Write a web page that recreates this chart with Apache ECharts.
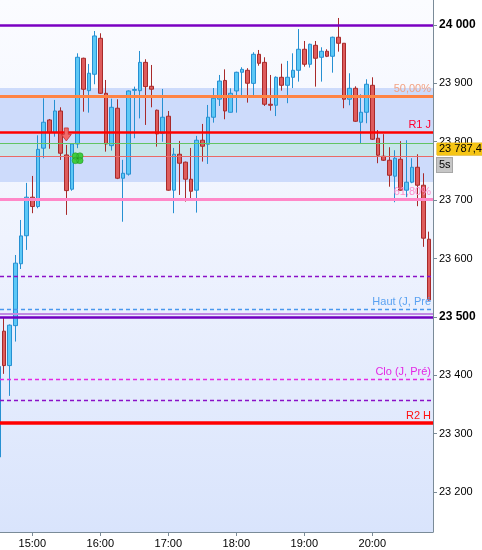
<!DOCTYPE html>
<html>
<head>
<meta charset="utf-8">
<script src="https://cdn.jsdelivr.net/npm/echarts@6/dist/echarts.min.js"></script>
<style>
html,body{margin:0;padding:0;background:#fff;}
#c{width:482px;height:550px;}
</style>
</head>
<body>
<div id="c"></div>
<script>
// ---- data ----
const times = ['14:30','14:35','14:40','14:45','14:50','14:55',
 '15:00','15:05','15:10','15:15','15:20','15:25','15:30','15:35','15:40','15:45','15:50','15:55',
 '16:00','16:05','16:10','16:15','16:20','16:25','16:30','16:35','16:40','16:45','16:50','16:55',
 '17:00','17:05','17:10','17:15','17:20','17:25','17:30','17:35','17:40','17:45','17:50','17:55',
 '18:00','18:05','18:10','18:15','18:20','18:25','18:30','18:35','18:40','18:45','18:50','18:55',
 '19:00','19:05','19:10','19:15','19:20','19:25','19:30','19:35','19:40','19:45','19:50','19:55',
 '20:00','20:05','20:10','20:15','20:20','20:25','20:30','20:35','20:40','20:45','20:50'];
// [open, close, low, high]
const ohlc = [
 [23260,23415,23255,23420],
 [23475.5,23416.6,23402.4,23499.5],
 [23416.6,23485.8,23364.7,23487],
 [23485,23592,23457.7,23606],
 [23591,23638.7,23582,23666],
 [23639,23705,23614.7,23729.5],
 [23705,23689,23677.6,23741.4],
 [23689,23787,23686,23811],
 [23789,23833.4,23771.8,23874.5],
 [23837.3,23815.6,23788,23839],
 [23815.6,23852.7,23808.7,23871.6],
 [23852.7,23780.3,23768.9,23859],
 [23777.4,23716.3,23674.7,23794.5],
 [23718.7,23796.2,23716,23797],
 [23796.2,23944.7,23789,23951.5],
 [23943,23889.9,23851.5,23944],
 [23887.5,23917.3,23849.8,23933.2],
 [23915.6,23981.2,23898.5,23989.7],
 [23977.2,23883,23882,23985.8],
 [23883,23796.2,23783,23905.8],
 [23793.3,23859,23784.8,23873.8],
 [23857.4,23737.5,23736,23872.8],
 [23737.5,23746,23663,23769],
 [23744.5,23887,23742,23888],
 [23888,23889.5,23806,23894.4],
 [23887.5,23936,23840,23955.5],
 [23936,23894.4,23828.8,23941.3],
 [23895,23890,23859,23931.5],
 [23854,23813.4,23791.6,23855],
 [23814.5,23842,23800,23890.4],
 [23843.7,23717,23716,23852.7],
 [23717,23778.6,23677.6,23789.4],
 [23778.6,23763.2,23708.9,23801.4],
 [23765,23735.8,23697.5,23766],
 [23735.8,23715.2,23703.3,23789.4],
 [23717,23802.6,23678.6,23810],
 [23802.6,23792.3,23766,23830.5],
 [23795.7,23842,23762,23863],
 [23842,23874.5,23832.7,23892],
 [23873,23904,23861.3,23914.4],
 [23905,23852.7,23838.5,23924],
 [23850.5,23883,23850,23891.6],
 [23887,23919,23849.8,23920],
 [23919,23924,23880,23927.6],
 [23922.4,23900.2,23867,23926],
 [23900,23949.8,23880,23953.3],
 [23949.8,23934.4,23930.3,23957.2],
 [23936,23864.2,23861.3,23944.7],
 [23864.2,23862.5,23853.3,23914.4],
 [23862.5,23910.4,23844,23912],
 [23910.4,23896.7,23887.5,23933.7],
 [23896.7,23910.4,23866,23938.4],
 [23910.4,23922.4,23892,23951.5],
 [23922.4,23958.4,23903,23993],
 [23958.4,23932.7,23928.6,23972.6],
 [23932.7,23967,23927,23968],
 [23965.2,23943,23894.4,23972.6],
 [23944.7,23955,23903,23961.8],
 [23955,23946.4,23945,23958.4],
 [23946.4,23979,23918.3,23980],
 [23979,23968.7,23954.3,24012],
 [23968.7,23872.8,23857.4,23969],
 [23872.8,23891.6,23862.5,23917.3],
 [23891.6,23835.1,23834,23895],
 [23833.4,23850.5,23797.4,23881.3],
 [23850.5,23898.5,23831.7,23907],
 [23896.7,23804.3,23803,23910.4],
 [23806,23776.9,23763.2,23820],
 [23775.2,23768.3,23767,23813],
 [23768.3,23742.6,23723,23790.6],
 [23741,23771.8,23696.4,23785.5],
 [23770,23717,23716,23801],
 [23717,23730.7,23705,23802.6],
 [23730.7,23756.3,23729,23771.8],
 [23756.3,23725.5,23689.6,23778.6],
 [23725.5,23634.8,23620,23746],
 [23633,23529,23528,23646]
];
const levelValues = [24000, 23878, 23815.6, 23797.4, 23775.7, 23701.5, 23569.6, 23513, 23505.7, 23500, 23393, 23357, 23318];
const levelLabels = ['', '50,00%', 'R1 J', '', '', '61,80%', '', 'Haut (J, Pré', '', '', 'Clo (J, Pré)', '', 'R2 H'];
const bandRanges = [[23892, 23731], [23797.4, 23775.7]];
const lastPrice = 23787.4;
const lastPriceText = '23 787,4';
const timerText = '5s';
const arrowSignals = [['15:30', 23812.5]];
const cloverSignals = [['15:40', 23771.8]];
const boldTicks = [24000, 23500];
const viewStart = '14:31:30';
const viewEnd = '20:53:34';
const priceMin = 23131.5;
const priceMax = 24042.8;

// ---- helpers / styles (not data) ----
function toTime(s){
  const p = s.split(':').map(Number);
  return new Date(2024, 0, 2, p[0], p[1], p[2] || 0).getTime();
}
function fmt(v){
  const s = String(Math.round(v));
  return s.slice(0, s.length-3) + ' ' + s.slice(-3);
}
const levelStyles = [
 {color:'#7a00c2', width:2.5, type:'solid', label:'#000'},
 {color:'#ff8444', width:3, type:'solid', label:'#f2a283'},
 {color:'#ff0000', width:2.5, type:'solid', label:'#ff0030'},
 {color:'#62c462', width:1, type:'solid', label:'#000'},
 {color:'#ea6a66', width:1, type:'solid', label:'#000'},
 {color:'#ff88c8', width:3, type:'solid', label:'#ff8ccc'},
 {color:'#8a10c8', width:1.3, type:[4,3], label:'#000'},
 {color:'#4a98ee', width:1.3, type:[4,3], label:'#5aa2f2'},
 {color:'#c28ae4', width:2, type:'solid', label:'#000'},
 {color:'#7200c0', width:2.5, type:'solid', label:'#000'},
 {color:'#e428e4', width:1.3, type:[4,3], label:'#e428e4'},
 {color:'#8a10c8', width:1.3, type:[4,3], label:'#000'},
 {color:'#ff0000', width:3.5, type:'solid', label:'#ff1010'}
];
const bandColors = ['#cddbfb', '#c7e5ea'];
const FONT = 'Liberation Sans, Arial, sans-serif';

const chart = echarts.init(document.getElementById('c'), null, {renderer:'canvas'});

const markLineData = levelValues.map((v, i) => ({
  yAxis: v,
  lineStyle: {color: levelStyles[i].color, width: levelStyles[i].width, type: levelStyles[i].type},
  label: {
    show: levelLabels[i] !== '',
    formatter: levelLabels[i],
    position: 'insideEndTop',
    distance: [2, 2],
    color: levelStyles[i].label,
    fontSize: 11,
    fontFamily: FONT
  }
}));
markLineData.push({
  yAxis: lastPrice,
  lineStyle: {color: 'rgba(0,0,0,0)', width: 1},
  label: {
    show: true,
    position: 'end',
    distance: 4,
    color: '#000',
    formatter: '{s| }\n{a|' + lastPriceText + '}\n{b|' + timerText + '}',
    rich: {
      s: {height: 20, lineHeight: 20, fontSize: 11, color: 'rgba(0,0,0,0)'},
      a: {backgroundColor: '#f6c515', borderColor:'#d9a400', borderWidth: 0.5, color:'#000', fontSize: 11, fontFamily: FONT,
          height: 12, lineHeight: 12, width: 44, padding: [0, 1, 0, 2]},
      b: {backgroundColor: '#c6c6c6', borderColor:'#a6a6a6', borderWidth: 1, color:'#000', fontSize: 11, fontFamily: FONT,
          height: 14, lineHeight: 20, width: 12, padding: [0, 1, 0, 2]}
    }
  }
});

const clover = 'path://M0.2,3 a2.8,2.8 0 1,0 5.6,0 a2.8,2.8 0 1,0 -5.6,0 Z' +
  ' M4.2,3 a2.8,2.8 0 1,0 5.6,0 a2.8,2.8 0 1,0 -5.6,0 Z' +
  ' M0.2,7 a2.8,2.8 0 1,0 5.6,0 a2.8,2.8 0 1,0 -5.6,0 Z' +
  ' M4.2,7 a2.8,2.8 0 1,0 5.6,0 a2.8,2.8 0 1,0 -5.6,0 Z';

const option = {
  animation: false,
  backgroundColor: '#ffffff',
  grid: {
    left: 0, right: 49, top: 0, bottom: 18,
    show: true,
    borderWidth: 0,
    backgroundColor: new echarts.graphic.LinearGradient(0, 0, 0, 1, [
      {offset: 0, color: '#fbfcff'},
      {offset: 0.45, color: '#eff3fe'},
      {offset: 1, color: '#d9e4fc'}
    ])
  },
  xAxis: {
    type: 'time',
    min: toTime(viewStart),
    max: toTime(viewEnd),
    minInterval: 3600000,
    maxInterval: 3600000,
    axisLine: {show: true, lineStyle: {color: '#7a8b98', width: 1}},
    axisTick: {show: true, length: 4, lineStyle: {color: '#7a8b98'}},
    axisLabel: {formatter: '{HH}:{mm}', color: '#000', fontSize: 11, fontFamily: FONT, margin: 6,
      showMinLabel: false, showMaxLabel: false, fontWeight: 'normal'},
    splitLine: {show: false},
    minorTick: {show: false}
  },
  yAxis: {
    type: 'value',
    position: 'right',
    min: priceMin,
    max: priceMax,
    splitNumber: 9,
    axisLine: {show: true, onZero: false, lineStyle: {color: '#7a8b98', width: 1}},
    axisTick: {show: true, length: 4, lineStyle: {color: '#7a8b98'}},
    splitLine: {show: false},
    axisLabel: {
      show: true, margin: 6, color: '#000', fontSize: 11, fontFamily: FONT,
      showMinLabel: false, showMaxLabel: false,
      formatter: (v) => {
        if (Math.abs(v - Math.round(v / 100) * 100) > 0.01) return '';
        if (boldTicks.indexOf(Math.round(v)) >= 0) return '{b|' + fmt(v) + '}';
        return fmt(v);
      },
      rich: {b: {fontWeight: 'bold', fontSize: 12, fontFamily: FONT, color: '#000'}}
    }
  },
  series: [
    {
      type: 'candlestick',
      data: ohlc.map((r, i) => [toTime(times[i])].concat(r)),
      barWidth: 4,
      z: 2,
      clip: true,
      itemStyle: {
        color: '#5cc8f6',
        color0: '#de5c5c',
        borderColor: '#2690d2',
        borderColor0: '#a82a2a',
        borderWidth: 1
      },
      markArea: {
        silent: true,
        data: bandRanges.map((r, i) => [
          {yAxis: r[0], itemStyle: {color: bandColors[i], opacity: 1}},
          {yAxis: r[1]}
        ])
      },
      markLine: {
        silent: true,
        symbol: ['none', 'none'],
        animation: false,
        data: markLineData
      }
    },
    {
      type: 'scatter',
      z: 6,
      data: arrowSignals.map(d => [toTime(d[0]), d[1]]),
      symbol: 'path://M3,0 L7,0 L7,6 L10,6 L5,12 L0,6 L3,6 Z',
      symbolSize: [10, 13],
      itemStyle: {color: '#f26a6a', borderColor: '#c43030', borderWidth: 0.8, opacity: 1}
    },
    {
      type: 'scatter',
      z: 6,
      data: cloverSignals.map(d => [toTime(d[0]), d[1]]),
      symbol: clover,
      symbolSize: [11, 11],
      itemStyle: {color: '#3fcc3f', borderColor: '#1e8c1e', borderWidth: 0.5, opacity: 1}
    }
  ]
};
chart.setOption(option);
</script>
</body>
</html>
